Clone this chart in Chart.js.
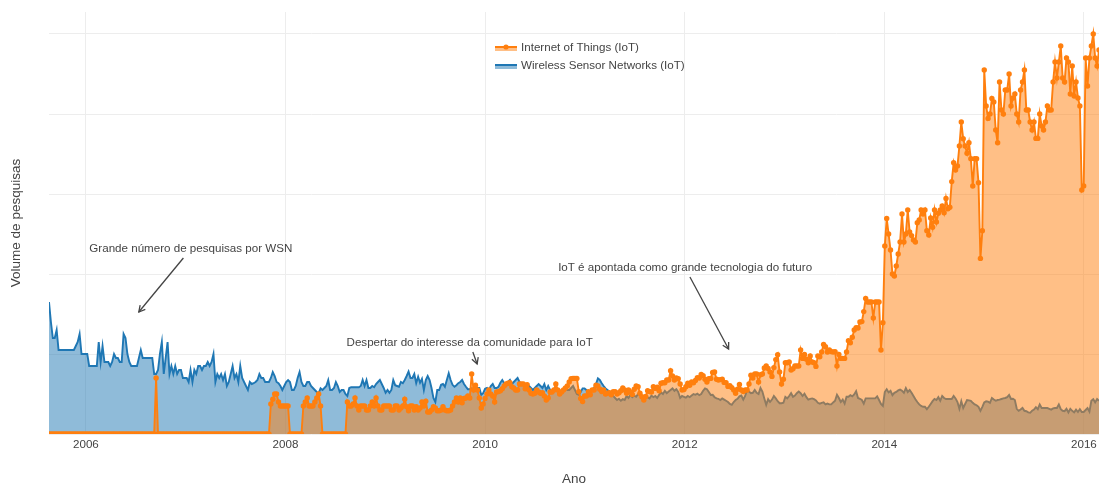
<!DOCTYPE html>
<html>
<head>
<meta charset="utf-8">
<title>IoT vs WSN</title>
<script src="https://cdn.jsdelivr.net/npm/chart.js@4.4.1/dist/chart.umd.min.js"></script>
<style>
  html, body { margin: 0; padding: 0; background: #fff; }
  canvas { display: block; }
</style>
</head>
<body>
<canvas id="trends" width="1099" height="487"></canvas>
<script>
// weekly samples, first week as a decimal year
var weekStart = 2005.63;
var weekStep = 7 / 365.25;

var yearTicks = [2006, 2008, 2010, 2012, 2014, 2016];
var gridValues = [0, 20, 40, 60, 80, 100];

var seriesNames = ['Internet of Things (IoT)', 'Wireless Sensor Networks (IoT)'];

// Internet of Things - weekly search volume (0-100), 10 weeks per row
var iotSearches = [
  0, 0, 0, 0, 0, 0, 0, 0, 0, 0,
  0, 0, 0, 0, 0, 0, 0, 0, 0, 0,
  0, 0, 0, 0, 0, 0, 0, 0, 0, 0,
  0, 0, 0, 0, 0, 0, 0, 0, 0, 0,
  0, 0, 0, 0, 0, 0, 0, 0, 0, 0,
  0, 0, 0, 0, 0, 0, 14, 0, 0, 0,
  0, 0, 0, 0, 0, 0, 0, 0, 0, 0,
  0, 0, 0, 0, 0, 0, 0, 0, 0, 0,
  0, 0, 0, 0, 0, 0, 0, 0, 0, 0,
  0, 0, 0, 0, 0, 0, 0, 0, 0, 0,
  0, 0, 0, 0, 0, 0, 0, 0, 0, 0,
  0, 0, 0, 0, 0, 0, 7.5, 8.7, 10, 10,
  8, 7, 7, 7, 7, 7, 0, 0, 0, 0,
  0, 0, 0, 7, 8, 9, 7, 7, 7, 8,
  9, 10, 7, 0, 0, 0, 0, 0, 0, 0,
  0, 0, 0, 0, 0, 0, 8, 7, 7, 7.5,
  9, 7, 6, 7, 7, 7, 6, 6, 7, 8,
  7, 9, 7, 6, 6, 7, 7, 7, 7, 6,
  6, 7, 7, 6, 6.5, 7, 8.7, 6.8, 5.8, 7,
  7, 6, 6.8, 6, 6.5, 8, 7, 8.2, 5.5, 5.5,
  6, 6.8, 6.5, 5.8, 5.8, 6, 6.8, 6, 5.8, 5.8,
  6, 7, 8, 9, 8, 9, 7.8, 8.9, 9, 9.5,
  9, 15, 11, 12.2, 11, 9, 6.5, 7.5, 8.9, 10,
  11, 10, 9.5, 8, 10.5, 10.6, 10.8, 11.3, 12, 12.5,
  12.7, 12.8, 11.8, 11.5, 11, 11, 12.5, 12.5, 12.5, 11.3,
  12.3, 11, 10.2, 10, 10.2, 11, 10.5, 10.2, 10.3, 9.5,
  8.5, 9, 10.5, 10.5, 11, 12.5, 11, 10, 10.5, 11,
  11.5, 12, 13, 13.8, 13.9, 13.9, 13.9, 10.6, 8.9, 8.1,
  9.5, 9.5, 10.6, 9.8, 11, 11, 12.2, 12, 11.2, 10.6,
  11, 10, 10.2, 10.3, 9.8, 10.6, 10.6, 10, 10.3, 10.8,
  11.5, 11, 10.2, 11, 10.5, 9.9, 11.2, 12, 11.8, 10.2,
  9.3, 8.5, 9.4, 10.8, 10.6, 10.5, 11.8, 11.4, 11.7, 10.8,
  12.7, 12.8, 12.8, 13.5, 13.5, 15.8, 14.5, 13.5, 14, 13.8,
  12.5, 11, 11.1, 11.8, 12.7, 12.2, 13, 12.8, 13.4, 14.1,
  14, 14.9, 14.6, 13.7, 13, 13.8, 13.9, 15.4, 15.5, 13.7,
  13.5, 13.6, 13.7, 12.9, 12.8, 11.9, 12.1, 11.6, 11, 10.2,
  11.2, 12.4, 11, 10.6, 11, 11, 12.5, 14.7, 14, 15,
  15, 13, 14.8, 15, 16.5, 17, 16.4, 15.5, 14.4, 16.6,
  18.6, 19.8, 15.5, 12.5, 13.7, 17.8, 17.8, 18, 16, 16.3,
  17, 17, 17, 21, 18.9, 19.9, 18.7, 17.8, 19.5, 18,
  17.8, 16.9, 19.5, 19.3, 20.5, 22.4, 21.8, 20.5, 21, 20.6,
  20.5, 20.6, 17, 19.9, 18.9, 18.9, 18.9, 20.5, 23.3, 22.8,
  24.2, 26, 26.6, 26.5, 28, 28.1, 30.6, 33.9, 33, 33,
  33, 29, 33, 33, 33, 21, 27.8, 47, 53.9, 50,
  46, 40, 39.5, 42, 45, 48, 55, 48, 50, 56,
  50.5, 49.6, 48.5, 48, 52.8, 53.5, 56, 55, 56, 50.8,
  49.75, 54, 51.7, 56, 53, 55.2, 56, 57, 55.3, 58.9,
  56.3, 56.7, 63.1, 67.8, 66, 67, 72, 78, 73.8, 72,
  70.2, 72.8, 68.8, 62, 68.8, 68.8, 62.8, 43.9, 50.8, 91,
  82, 78.9, 80, 83.9, 83, 76, 72.8, 88, 81, 80,
  86, 86, 90, 82, 84, 85, 80, 78, 86, 88,
  91, 81, 81, 78, 76, 78, 73.9, 73.9, 80, 77,
  76, 78, 82, 81, 81, 88, 93, 89, 93, 97,
  89, 88, 94, 93, 85, 92, 84.5, 88, 84, 82,
  61, 62, 94, 87, 94, 97, 100, 94, 92, 96
];

// Wireless Sensor Networks - weekly search volume (0-100), 10 weeks per row
var wsnSearches = [
  33, 28, 24, 24, 26, 21, 21, 21, 21, 21,
  21, 21, 21, 21, 22, 23, 25, 20, 20, 20,
  20, 17, 17, 17, 17, 17, 23, 18, 22, 18,
  18, 18, 17, 18, 20, 19, 19, 18, 18, 25,
  24, 20, 18, 17, 17, 17, 17, 19, 21, 19,
  19, 19, 19, 19, 19, 15, 15, 16, 20, 23,
  15, 19, 23, 15, 17, 15, 17, 15, 16, 16,
  14, 14, 14, 13, 16, 13, 16, 15, 17, 17,
  16, 17, 17, 18, 17, 18, 20, 13, 15, 14,
  15, 13.5, 15, 12, 13, 15, 17, 14, 15, 13,
  17, 14, 13, 12, 11, 13, 12.5, 12.7, 13, 13.5,
  15, 14, 14, 13, 13, 13, 14, 15.5, 14.5, 13,
  12.7, 12, 11, 12, 13, 13.5, 13, 11, 11, 12,
  14, 15.5, 13, 12, 12, 13, 13, 12, 11.5, 11,
  10.5, 10.2, 11.4, 11, 11.5, 12, 13.5, 11, 11, 11.5,
  13, 12, 10.5, 11, 11, 10, 9.5, 11.5, 11.7, 11.7,
  11.7, 11.7, 11.7, 12, 13.5, 12, 13.5, 11.5, 11.5, 12,
  11.7, 12.5, 13, 13.5, 12.5, 11.5, 10.3, 11, 10.3, 11,
  13.5, 12.2, 12, 11.8, 13, 12.7, 13.5, 14.5, 15.6, 14,
  14, 15, 12.7, 14.3, 12.8, 13.8, 11, 13.5, 14.5, 13.5,
  11.5, 9, 8, 11, 11, 12.3, 12.5, 11.8, 13.5, 15.2,
  13.5, 12.3, 11.8, 12.2, 12.7, 13, 13.5, 12.5, 11.8, 11.2,
  11.2, 11.4, 11.2, 11, 11.5, 11.5, 9.8, 10.2, 11.3, 11.5,
  11, 12, 12.5, 11.5, 11.5, 11.8, 12.8, 13.5, 12.7, 12.5,
  13, 13.5, 12.5, 13, 13.5, 14, 13, 12.5, 12.5, 12,
  12.5, 12, 11.5, 11, 11.5, 12, 12.5, 12, 11.5, 12.5,
  11, 12, 11, 10.5, 11, 11.5, 11, 10.5, 11, 11,
  11.5, 11, 11, 11.5, 12, 11, 10, 9.8, 10.5, 11.4,
  11.4, 11, 10.6, 10.8, 11, 11.5, 12.5, 13.9, 13.5, 12.7,
  12, 11.4, 11, 10.6, 10.2, 9.5, 9, 8.5, 8.8, 8.3,
  8.7, 8.5, 9.5, 9, 9.8, 9.2, 9.6, 9.3, 10, 9.75,
  9.3, 9, 9.5, 9.2, 8.9, 9.6, 9.2, 9.5, 9, 9.8,
  10.4, 10, 10.8, 10.2, 10.6, 11, 11.4, 10.8, 11.2, 10.5,
  9, 9.5, 9.3, 9.1, 9.5, 9.2, 9.6, 10, 9.8, 10.1,
  9.7, 10, 10.8, 11.4, 11.2, 10.5, 9.75, 9.8, 9.2, 8.9,
  8.8, 8.5, 8.9, 8.6, 8.3, 8, 7.5, 7.3, 8, 8.5,
  8.8, 9.4, 9.6, 8.6, 9.5, 11, 10.6, 10.2, 10.3, 11,
  10.3, 10, 11.5, 10.6, 8.9, 7.3, 8.7, 8, 8.6, 9.5,
  8.9, 8.2, 7.7, 7.7, 7.8, 9.3, 8.9, 9.5, 10.2, 9.3,
  9.6, 10.2, 10.6, 10.2, 9.5, 10.1, 9.2, 8.6, 8.8, 8.9,
  8.7, 8.4, 7.8, 7.6, 7.8, 7.9, 7.4, 7.6, 7.4, 7.4,
  7.9, 8.3, 9.8, 9, 8, 8.6, 7.6, 9.3, 9.3, 9.7,
  9.4, 9.9, 10.7, 9, 8.8, 8.5, 7.6, 8.9, 8.9, 8.9,
  8.9, 8.9, 8.9, 9.4, 8.5, 7.5, 7, 10.5, 11.2, 10.4,
  10.8, 9.7, 10.3, 10.5, 10.9, 11.1, 10.8, 10.3, 11.5, 10.5,
  11, 10.3, 9.5, 8.7, 8, 7.4, 7, 6.8, 6.8, 6.2,
  6.8, 7.5, 8.2, 8.75, 8.5, 9.2, 8.3, 9.5, 9, 8.75,
  8.75, 8.75, 8.75, 9.5, 8.9, 8, 6.3, 8.2, 6.5, 7.5,
  8.5, 8.4, 8.3, 7.8, 7.4, 7.2, 6.8, 5.8, 6.8, 7.9,
  8.2, 8.1, 7.8, 9, 8.6, 8.3, 8.5, 8.6, 8.75, 8.9,
  9, 9.2, 9.75, 8.75, 8.8, 8.5, 6.3, 5.8, 6.1, 6.5,
  5.8, 5.7, 5.4, 5.3, 5.8, 6.1, 6.7, 6.2, 7.4, 6.5,
  6.5, 6.5, 6.5, 6.3, 6.1, 6.4, 6.5, 6.5, 7.4, 6.2,
  5.8, 5.7, 6.3, 5.4, 6.3, 5.8, 5.4, 6.1, 5.5, 6.2,
  5.5, 5.5, 6, 6.5, 5.6, 8.3, 8.7, 7.9, 8.75, 8.3
];

// annotations: text and the (year, volume) point the arrow points at
var noteTexts = [
  'Grande número de pesquisas por WSN',
  'Despertar do interesse da comunidade para IoT',
  'IoT é apontada como grande tecnologia do futuro'
];
var noteYears = [2006.53, 2009.92, 2012.44];
var noteValues = [30.5, 17.5, 21.25];

var FONT = '"Liberation Sans", Arial, Helvetica, sans-serif';
var TEXT = '#444';
var ORANGE = '#ff7f0e', ORANGE_FILL = 'rgba(255,127,14,0.5)';
var BLUE = '#1f77b4', BLUE_FILL = 'rgba(31,119,180,0.5)';

function toPoints(values) {
  return values.map(function (v, i) { return { x: weekStart + i * weekStep, y: v }; });
}

// text offsets of the annotations from their arrow heads, in pixels
var noteOffsets = [[52, -63], [-7.5, -21], [-43.5, -81]];

var overlay = {
  id: 'overlay',
  afterDraw: function (chart) {
    var ctx = chart.ctx, xs = chart.scales.x, ys = chart.scales.y;
    ctx.save();
    ctx.font = '11.6px ' + FONT;
    ctx.fillStyle = TEXT;
    ctx.strokeStyle = TEXT;
    ctx.textAlign = 'center';
    ctx.textBaseline = 'middle';
    for (var k = 0; k < noteTexts.length; k++) {
      var px = xs.getPixelForValue(noteYears[k]);
      var py = ys.getPixelForValue(noteValues[k]);
      var tx = px + noteOffsets[k][0], ty = py + noteOffsets[k][1];
      ctx.fillText(noteTexts[k], tx, ty);
      // arrow leaves the text box just below the label
      var s = 9 / (py - ty);
      var sx = tx + (px - tx) * s, sy = ty + 9;
      ctx.lineWidth = 1.3;
      ctx.beginPath();
      ctx.moveTo(sx, sy);
      ctx.lineTo(px, py);
      ctx.stroke();
      var ang = Math.atan2(py - sy, px - sx);
      ctx.beginPath();
      ctx.moveTo(px - 7 * Math.cos(ang - 0.5), py - 7 * Math.sin(ang - 0.5));
      ctx.lineTo(px, py);
      ctx.lineTo(px - 7 * Math.cos(ang + 0.5), py - 7 * Math.sin(ang + 0.5));
      ctx.stroke();
    }

    // legend, plotly style, top centre of the plot
    var lx = 495, ly = [48, 66];
    var lines = [ORANGE, BLUE], fills = [ORANGE_FILL, BLUE_FILL];
    ctx.textAlign = 'left';
    for (var j = 0; j < 2; j++) {
      ctx.fillStyle = fills[j];
      ctx.fillRect(lx, ly[j] - 1, 22, 4);
      ctx.strokeStyle = lines[j];
      ctx.lineWidth = 2;
      ctx.beginPath();
      ctx.moveTo(lx, ly[j] - 1);
      ctx.lineTo(lx + 22, ly[j] - 1);
      ctx.stroke();
      if (j === 0) {
        ctx.fillStyle = ORANGE;
        ctx.beginPath();
        ctx.arc(lx + 11, ly[j] - 1, 2.6, 0, Math.PI * 2);
        ctx.fill();
      }
      ctx.fillStyle = TEXT;
      ctx.fillText(seriesNames[j], lx + 26, ly[j]);
    }
    ctx.restore();
  }
};

Chart.defaults.font.family = FONT;
Chart.defaults.color = TEXT;

var lastWeek = weekStart + (iotSearches.length - 1) * weekStep;

new Chart(document.getElementById('trends'), {
  type: 'line',
  data: {
    datasets: [{
      label: seriesNames[0],
      data: toPoints(iotSearches),
      borderColor: ORANGE,
      backgroundColor: ORANGE_FILL,
      borderWidth: 1.9,
      fill: 'origin',
      pointRadius: 2.7,
      pointBorderWidth: 0,
      pointBackgroundColor: ORANGE,
      pointHoverRadius: 0,
      tension: 0,
      clip: 0
    }, {
      label: seriesNames[1],
      data: toPoints(wsnSearches),
      borderColor: BLUE,
      backgroundColor: BLUE_FILL,
      borderWidth: 1.9,
      fill: 'origin',
      pointRadius: 0,
      pointHoverRadius: 0,
      tension: 0,
      clip: 0
    }]
  },
  options: {
    responsive: false,
    devicePixelRatio: 1,
    animation: false,
    events: [],
    layout: { autoPadding: false, padding: { top: 12, right: 0, bottom: 0, left: 0 } },
    plugins: {
      legend: { display: false },
      tooltip: { enabled: false }
    },
    scales: {
      x: {
        type: 'linear',
        min: weekStart,
        max: lastWeek,
        border: { display: false },
        grid: { color: '#ededed', drawTicks: false },
        afterBuildTicks: function (scale) {
          scale.ticks = yearTicks.map(function (v) { return { value: v }; });
        },
        afterFit: function (scale) {
          scale.height = 53;
          scale.paddingLeft = 0;
          scale.paddingRight = 0;
        },
        ticks: {
          padding: 4,
          color: TEXT,
          font: { size: 11.6 },
          maxRotation: 0,
          autoSkip: false,
          callback: function (v) { return String(v); }
        },
        title: {
          display: true,
          text: 'Ano',
          color: TEXT,
          font: { size: 13.5 },
          padding: { top: 0, bottom: 0 }
        }
      },
      y: {
        min: 0,
        max: 105.5,
        border: { display: false },
        grid: { color: '#ededed', drawTicks: false },
        afterBuildTicks: function (scale) {
          scale.ticks = gridValues.map(function (v) { return { value: v }; });
        },
        afterFit: function (scale) { scale.width = 49; },
        ticks: { display: false },
        title: {
          display: true,
          text: 'Volume de pesquisas',
          color: TEXT,
          font: { size: 13.5 },
          padding: { top: 8, bottom: 0 }
        }
      }
    }
  },
  plugins: [overlay]
});
</script>
</body>
</html>
